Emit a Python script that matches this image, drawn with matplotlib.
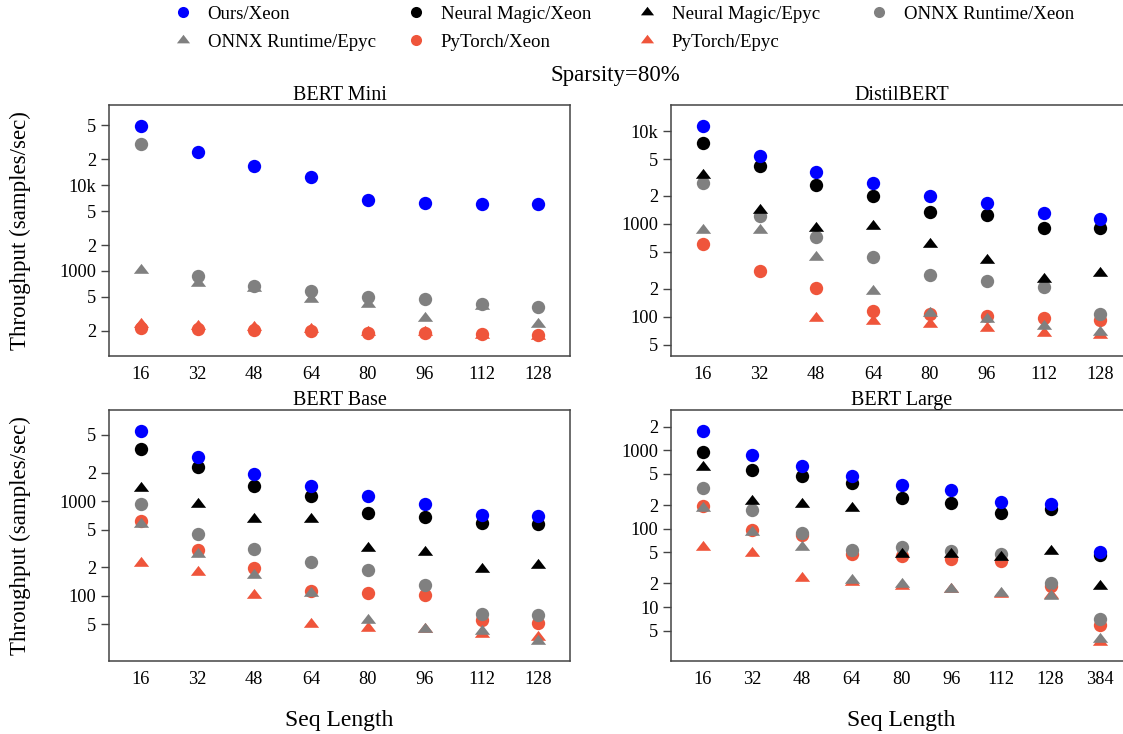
import matplotlib
matplotlib.use("Agg")
import matplotlib.pyplot as plt
import numpy as np
from matplotlib.lines import Line2D

plt.rcParams['font.family'] = ['Liberation Serif', 'DejaVu Serif']

nan = np.nan
seq = [16, 32, 48, 64, 80, 96, 112, 128]
seq_large = [16, 32, 48, 64, 80, 96, 112, 128, 384]

series = ['Ours/Xeon', 'Neural Magic/Xeon', 'Neural Magic/Epyc', 'ONNX Runtime/Xeon',
          'ONNX Runtime/Epyc', 'PyTorch/Xeon', 'PyTorch/Epyc']

# throughput (samples/sec), order as in `series`
mini = [
    [49200, 24800, 16700, 12400, 6670, 6270, 6050, 6050],
    [nan] * 8,
    [nan] * 8,
    [30300, 873, 673, 578, 500, 466, 414, 382],
    [1020, 720, 630, 470, 410, 280, 385, 240],
    [216, 211, 205, 198, 189, 188, 182, 178],
    [240, 228, 219, 210, 191, 191, 178, 172],
]
distil = [
    [11400, 5410, 3630, 2750, 2020, 1670, 1300, 1130],
    [7530, 4220, 2610, 1990, 1350, 1260, 915, 915],
    [3400, 1400, 895, 960, 605, 408, 257, 296],
    [2770, 1220, 731, 441, 282, 245, 211, 106],
    [865, 865, 445, 189, 111, 95, 79, 69],
    [615, 315, 204, 114, 107, 102, 96, 92],
    [nan, nan, 98, 90, 83, 76, 67, 63],
]
base = [
    [5480, 2900, 1920, 1460, 1120, 922, 717, 700],
    [3530, 2300, 1460, 1140, 741, 684, 585, 576],
    [1370, 935, 652, 648, 318, 290, 192, 211],
    [922, 447, 310, 225, 189, 130, 64, 62],
    [570, 278, 165, 108, 55, 45, 42, 33],
    [614, 308, 197, 113, 106, 102, 55, 52],
    [224, 179, 101, 50, 46, 45, 40, 37],
]
large = [
    [1750, 881, 623, 474, 363, 307, 217, 209, 51],
    [962, 566, 469, 385, 248, 213, 160, 177, 46],
    [610, 224, 208, 184, 47.5, 47.5, 43.5, 52, 18.4],
    [326, 172, 87, 53, 59, 52, 47, 20.5, 7.1],
    [181, 91, 58, 22.3, 19.4, 17.1, 14.9, 13.7, 3.9],
    [193, 97, 83, 48, 45, 41, 39, 18.6, 5.9],
    [58.5, 49.5, 23.3, 20.8, 18.4, 17.1, 14.5, 14.1, 3.6],
]

colors = ['#0000ff', '#000000', '#000000', '#808080', '#808080', '#ef553b', '#ef553b']
circle = 'o'
tri = [(-1.155, -0.5), (1.155, -0.5), (0.0, 1.0), (-1.155, -0.5)]
markers = [circle, circle, tri, circle, tri, circle, tri]
zorders = [6, 4, 9, 5, 10, 3, 8]


def ylabel_fmt(v, pos):
    e = int(round(np.log10(v)))
    if abs(v - 10 ** e) < 1e-6 * v:
        if e >= 4:
            return '%dk' % (10 ** (e - 3))
        return '%d' % (10 ** e)
    return '%d' % round(v / 10 ** np.floor(np.log10(v)))


fig = plt.figure(figsize=(11.23, 7.34), dpi=100)
W, H = 1123.0, 734.0

panels = [
    ('BERT Mini', mini, seq, (109, 105), (101, 86700)),
    ('DistilBERT', distil, seq, (671, 105), (37.8, 19100)),
    ('BERT Base', base, seq, (109, 410), (20.5, 9160)),
    ('BERT Large', large, seq_large, (671, 410), (2.05, 3260)),
]
pw, ph = 461, 251

for title, data, xs, (px, py), ylim in panels:
    ax = fig.add_axes([px / W, 1 - (py + ph) / H, pw / W, ph / H])
    n = len(xs)
    pos = np.arange(n)
    for vals, c, m, z in zip(data, colors, markers, zorders):
        ms = 9.6 if m == 'o' else 11.0
        ax.plot(pos, vals, linestyle='none', marker=m, color=c, markersize=ms,
                markeredgewidth=0, zorder=z)
    ax.set_yscale('log')
    ax.set_ylim(*ylim)
    step = (pw - 2 * 31.7) / (n - 1)
    ax.set_xlim(-31.7 / step, (pw - 31.7) / step)
    ax.set_xticks(pos)
    ax.set_xticklabels([str(s) for s in xs])
    ticks = [m * 10 ** e for e in range(0, 6) for m in (1, 2, 5)]
    ax.yaxis.set_major_locator(matplotlib.ticker.FixedLocator(ticks))
    ax.yaxis.set_minor_locator(matplotlib.ticker.NullLocator())
    ax.yaxis.set_major_formatter(matplotlib.ticker.FuncFormatter(ylabel_fmt))
    ax.tick_params(axis='x', length=0, pad=7, labelsize=13.2)
    ax.tick_params(axis='y', length=6, width=1, color='#444444', pad=3, labelsize=13.2)
    for s in ax.spines.values():
        s.set_color('#444444')
        s.set_linewidth(1.1)
    ax.set_title(title, fontsize=14.5, pad=3)
    if px < 300:
        ax.set_ylabel('Throughput (samples/sec)', fontsize=16.5)
        ax.yaxis.set_label_coords((31 - px) / pw, 0.5)
    if py > 300:
        ax.set_xlabel('Seq Length', fontsize=17, labelpad=16)

fig.text(615 / W, 1 - 75 / H, 'Sparsity=80%', ha='center', va='center', fontsize=16.5)

# legend, plotly-like: 4 equal columns, filled row by row
col_x = [183, 416, 647, 879]
row_y = [14, 42]
for i, (name, c, m) in enumerate(zip(series, colors, markers)):
    r, k = divmod(i, 4)
    h = Line2D([], [], linestyle='none', marker=m, color=c,
               markersize=8 if m == 'o' else 9.5, markeredgewidth=0)
    fig.legend([h], [name], loc='center left', frameon=False, fontsize=13.6,
               handlelength=1.0, handletextpad=0.8, borderpad=0, borderaxespad=0,
               bbox_to_anchor=((col_x[k] - 9.4) / W, 1 - row_y[r] / H))

fig.savefig('out.png', dpi=100)
